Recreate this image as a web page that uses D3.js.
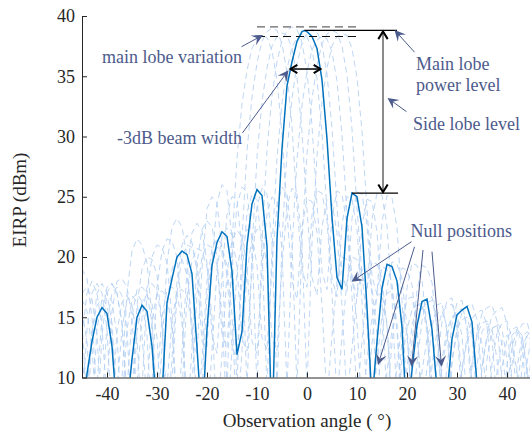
<!DOCTYPE html>
<html>
<head>
<meta charset="utf-8">
<script src="https://cdn.jsdelivr.net/npm/d3@7"></script>
<style>
  body { margin: 0; background: #fff; }
  text { font-family: "Liberation Serif", "Times New Roman", serif; }
</style>
</head>
<body>
<svg id="chart" width="530" height="434"></svg>
<script>
// Observation angles (deg) shared by the dashed patterns
const angles = [-45,-44,-43,-42,-41,-40,-39,-38,-37,-36,-35,-34,-33,-32,-31,-30,-29,-28,-27,-26,-25,-24,-23,-22,-21,-20,-19,-18,-17,-16,-15,-14,-13,-12,-11,-10,-9,-8,-7,-6,-5,-4,-3,-2,-1,0,1,2,3,4,5,6,7,8,9,10,11,12,13,14,15,16,17,18,19,20,21,22,23,24,25,26,27,28,29,30,31,32,33,34,35,36,37,38,39,40,41,42,43,44,45];

// Main (solid) pattern
const mainAngles = [-45,-44,-43,-42,-41,-40,-39,-38,-37,-36,-35,-34,-33,-32,-31,-30,-29,-28,-27,-26,-25,-24,-23,-22,-21,-20,-19,-18,-17,-16,-15,-14,-13,-12,-11,-10,-9,-8,-7,-6,-5,-4,-3,-2,-1,-0.5,0,1,2,3,4,5,6,7,8,9,10,11,12,13,14,15,16,17,18,19,20,21,22,23,24,25,26,27,28,29,30,31,32,33,34,35,36,37,38,39,40,41,42,43,44,45];
const mainEIRP = [6,10.3,13,15,15.8,15.3,12.6,7,5,7.5,11.5,15,16,15.5,12.6,7,8.5,16.2,18.2,20,20.5,20.2,18.6,12.5,6,14,19.3,21.2,22.1,21.7,18.8,11.9,13.8,21,24.4,25.6,25.1,20.9,5,21.5,29,34.2,36.2,37.9,38.7,38.8,38.7,38.3,37.3,34.7,29.8,23.3,18.3,17.3,23.2,25.3,25,22.5,15.8,8,13,17.4,19.4,19.2,18,14.2,6,10.6,14.3,16.3,16.5,14,9,6,8.5,13.2,15.2,15.6,15.9,14.6,9.5,5,7,9,9.5,8.5,5,8,9.5,9,6,7];

// Dashed patterns (other steering states), one array per pattern
const steerM9 = [6,9,14,16,16.5,16,13.5,8,10,17,20.5,21.5,21,19.5,15,6,12.5,19.5,22.5,23.2,22.5,20,13,12,19,24,25,24.5,20.5,9,21,28.2,32.7,35.5,37.3,38.1,38.4,38.2,37.1,34.7,30.2,23.7,18,16.5,22.5,24.8,24.6,22,16,8,13.5,18,20,19.8,18.5,14.5,7,11.5,15,16.8,17,14.5,8,6,11.5,14,15.6,16,16,14.5,9.5,6,11.5,14,15,15.2,13.5,8,6,11,13.8,14.5,14,11.5,6,9,12.5,14,13.5,10.5,5];
const steerM7 = [15.5,13,6,9.5,15,17.5,17.8,17,14.5,8,8.5,16,19,20,19.8,18.5,14.5,6,11.5,18,21,21.8,21.2,18.8,13,12.5,19.5,24.5,26,25.5,21.5,9,21.5,28.8,33.3,36.1,37.9,38.7,39,38.8,37.7,35.3,30.8,24.3,19,17.5,23.5,25.5,25.3,23,17,8,13.5,18,20,19.8,18.6,14.5,7,11.5,15,17,17.2,14.5,8,6,11.5,14.2,15.8,16.2,16.4,15,9.8,6,11.5,14,14.8,15,13.5,8,6,11.5,14,14.5,14,11.5,6,9,12.5,13.5,13];
const steerM5 = [17,17.5,16.5,13.5,6,9.5,15.5,18,18.2,17.5,15,8,9,17,20,21,20.8,19.5,15,6,12,19,22,22.8,22.2,19.5,13.5,12,18.5,23.5,25,24.8,20.5,9,20.5,28.3,32.9,35.7,37.5,38.3,38.6,38.4,37.3,34.9,30.4,23.9,18.3,16.8,22.5,24.8,24.5,22,16,8,12.5,16.8,19,18.8,17.5,13.5,7,10.5,14,15.8,16,13.5,8,6,10.5,13.2,14.8,15.3,15.5,14.2,9.2,6,10.5,13,14,14.2,12.8,8,6,10.5,13,13.5,13,10.5,6,9,12];
const steerM3 = [7,14,17,17.8,17,14,6,9,14,16.5,16.8,16.2,13.5,8,9.5,17.5,20.5,21.5,21.3,20,15.5,6,12.5,19.5,22.3,23,22.5,20,13.5,12.5,19.5,24.3,25.8,25.4,21.3,9,21.3,28.9,33.4,36.2,38,38.8,39.1,38.9,37.8,35.4,30.9,24.4,18.8,17.3,23.3,25.5,25.2,22.7,16.7,8,13,17.5,19.6,19.4,18.2,14.2,7,11,14.5,16.5,16.7,14.2,8,6,11,13.8,15.4,15.9,16.1,14.8,9.6,6,11,13.5,14.5,14.7,13.2,8,6,11,13.5,14,13.5,11,6];
const steerM1 = [14.5,8,7,14,16.5,17,16.3,13.5,6,9,15,17.3,17.5,17,14.5,8,9,16,19,20,19.8,18.5,14.5,6,11.5,18,20.7,21.5,21,18.5,12.5,11.5,18.5,23.7,25.2,24.7,20.7,9,20.7,28.2,32.8,35.6,37.4,38.2,38.5,38.3,37.2,34.8,30.3,23.8,18.2,16.7,22.7,25,24.8,22.3,16.3,8,12.8,17,19.2,19,17.8,13.8,7,10.8,14.3,16,16.2,13.8,8,6,10.8,13.4,15,15.5,15.7,14.4,9.3,6,10.8,13.3,14.1,14.3,12.8,8,6,10.8,13.3,13.8,13.3];
const steerP1 = [19,18.2,15,8,7.5,14.5,17,17.5,16.8,14,6,9.5,15,17.5,17.8,17.2,14.5,8,9.5,17,20,21,20.8,19.5,15.2,6,12.2,19,21.7,22.4,21.8,19.2,13.2,12.2,19.2,24.2,25.7,25.2,21.2,9,21.2,28.7,33.2,36,37.8,38.6,38.9,38.7,37.6,35.2,30.7,24.2,18.7,17.2,23.2,25.4,25.2,22.7,16.7,8,13.2,17.5,19.6,19.4,18.2,14.2,7,11.2,14.7,16.5,16.7,14.2,8,6,11.2,13.8,15.4,15.9,16.1,14.8,9.7,6,11.2,13.7,14.5,14.7,13.2,8,6,11.2,13.7];
const steerP3 = [13.5,17,18,17,14.2,8,7,13.8,16.2,16.8,16,13.2,6,9.2,14.7,17,17.2,16.7,14.2,8,9,16.7,19.7,20.7,20.5,19.2,15,6,12,18.7,21.4,22.2,21.7,19.2,13,12,18.8,23.6,25,24.6,20.6,9,20.6,28.1,32.6,35.4,37.2,38,38.3,38.1,37,34.6,30.1,23.6,18.2,16.7,22.6,24.8,24.6,22.1,16.2,8,12.8,17,19.1,18.9,17.7,13.8,7,10.8,14.2,16,16.2,13.8,8,6,10.8,13.3,14.9,15.4,15.6,14.3,9.3,6,10.8,13.2,14,14.2,12.7,8,6];
const steerP5 = [12.5,6,13.5,17,17.8,17,14.5,8,7.5,14,16.5,17,16.3,13.5,6,9.5,15,17.3,17.5,17,14.5,8,9.3,17,20,21,20.8,19.3,15.3,6,12.3,18.8,21.5,22.3,21.8,19.3,13.3,12.3,19.3,24.3,25.8,25.3,21.3,9,21.3,28.6,33.1,35.9,37.7,38.5,38.8,38.6,37.5,35.1,30.6,24.1,18.6,17.1,23.1,25.3,25.1,22.6,16.6,8,13.1,17.4,19.5,19.3,18.1,14.1,7,11.1,14.6,16.4,16.6,14.1,8,6,11.1,13.7,15.3,15.8,16,14.7,9.6,6,11.1,13.6,14.4,14.6,13.1];
const steerP7 = [16.5,15.5,12.5,6,13.5,17,17.8,17,14.5,8,7.2,13.8,16.3,16.8,16.1,13.3,6,9.2,14.8,17.1,17.3,16.8,14.3,8,9.2,16.8,19.8,20.8,20.6,19.3,15.2,6,12.2,18.8,21.5,22.3,21.8,19.3,13.2,12.2,19.2,24.2,25.7,25.2,21.2,9,21.2,28.4,32.9,35.7,37.5,38.3,38.5,38.4,37.3,34.9,30.4,23.9,18.4,16.9,22.9,25.1,24.9,22.4,16.4,8,12.9,17.2,19.3,19.1,17.9,13.9,7,10.9,14.4,16.2,16.4,13.9,8,6,10.9,13.5,15.1,15.6,15.8,14.5,9.4,6,10.9,13.4,14.2];
const dashedSeries = [steerM9, steerM7, steerM5, steerM3, steerM1, steerP1, steerP3, steerP5, steerP7];

// Tick labels
const xTicks = [-40, -30, -20, -10, 0, 10, 20, 30, 40];
const yTicks = [10, 15, 20, 25, 30, 35, 40];

const ANNOT = '#4c5b8c';
const svg = d3.select('#chart');

// Scales
const margin = { left: 82, top: 16 };
const x = d3.scaleLinear().domain([-45, 45]).range([margin.left, 532]);
const y = d3.scaleLinear().domain([10, 40]).range([377.5, margin.top]);

svg.append('defs').append('clipPath').attr('id', 'plot')
  .append('rect').attr('x', x(-45)).attr('y', y(40)).attr('width', x(45) - x(-45)).attr('height', y(10) - y(40));

const plot = svg.append('g').attr('clip-path', 'url(#plot)');

// Dashed patterns
const dashLine = d3.line().x((d, i) => x(angles[i])).y(d => y(d));
plot.selectAll('path.steer')
  .data(dashedSeries)
  .enter().append('path')
  .attr('class', 'steer')
  .attr('d', dashLine)
  .attr('fill', 'none')
  .attr('stroke', '#b3cff2')
  .attr('stroke-opacity', 0.85)
  .attr('stroke-width', 1)
  .attr('stroke-dasharray', '6,4');

// Main pattern
const mainLine = d3.line().x((d, i) => x(mainAngles[i])).y(d => y(d));
plot.append('path')
  .datum(mainEIRP)
  .attr('d', mainLine)
  .attr('fill', 'none')
  .attr('stroke', '#0072bd')
  .attr('stroke-width', 1.5);

// Axes (ticks inward)
const xAxis = svg.append('g')
  .attr('transform', 'translate(0,' + y(10) + ')')
  .call(d3.axisBottom(x).tickValues(xTicks).tickFormat(d => String(d)).tickSize(-5).tickSizeOuter(0).tickPadding(10));
const yAxis = svg.append('g')
  .attr('transform', 'translate(' + x(-45) + ',0)')
  .call(d3.axisLeft(y).tickValues(yTicks).tickFormat(d => String(d)).tickSize(-5).tickSizeOuter(0).tickPadding(7));
[xAxis, yAxis].forEach(g => {
  g.attr('font-family', null).attr('font-size', null);
  g.selectAll('path, line').attr('stroke', '#262626');
  g.selectAll('text').attr('fill', '#262626').style('font-size', '18px');
});

svg.append('text')
  .attr('x', x(0)).attr('y', 427)
  .attr('text-anchor', 'middle')
  .style('font-size', '19px').attr('fill', '#262626')
  .text('Observation angle ( °)');
svg.append('text')
  .attr('transform', 'translate(26,' + 200 + ') rotate(-90)')
  .attr('text-anchor', 'middle')
  .style('font-size', '19px').attr('fill', '#262626')
  .text('EIRP (dBm)');

// Reference levels taken from the data
const dashedPeaks = dashedSeries.map(s => d3.max(s));
const topVar = d3.max(dashedPeaks);
const lowVar = d3.min(dashedPeaks);
const mainPeak = d3.max(mainEIRP);
const sideLobe = mainEIRP[mainAngles.indexOf(9)];

function hline(a0, a1, v, stroke, dash) {
  svg.append('line')
    .attr('x1', x(a0)).attr('x2', x(a1)).attr('y1', y(v)).attr('y2', y(v))
    .attr('stroke', stroke).attr('stroke-width', 1.2)
    .attr('stroke-dasharray', dash || null);
}
hline(-10, 10, topVar, '#666', '8,5');
hline(-10, 10, lowVar, '#111', '8,5');
hline(-0.5, 18, mainPeak, '#000');
hline(9, 18.2, sideLobe, '#000');

// Open V arrowhead at (px,py) pointing along angle ang
function vHead(px, py, ang, len, stroke) {
  const a1 = ang + Math.PI - 0.55, a2 = ang + Math.PI + 0.55;
  svg.append('path')
    .attr('d', 'M' + (px + len * Math.cos(a1)) + ',' + (py + len * Math.sin(a1)) +
      'L' + px + ',' + py +
      'L' + (px + len * Math.cos(a2)) + ',' + (py + len * Math.sin(a2)))
    .attr('fill', 'none').attr('stroke', stroke).attr('stroke-width', 2);
}

// Side lobe level double arrow
const vx = x(15.2);
svg.append('line').attr('x1', vx).attr('x2', vx).attr('y1', y(mainPeak) + 2).attr('y2', y(sideLobe) - 2)
  .attr('stroke', '#666').attr('stroke-width', 1.5);
vHead(vx, y(mainPeak) + 1, -Math.PI / 2, 9, '#000');
vHead(vx, y(sideLobe) - 1, Math.PI / 2, 9, '#000');

// -3dB beam width double arrow
const bwY = y(mainPeak - 3.2);
svg.append('line').attr('x1', x(-3.3)).attr('x2', x(2.7)).attr('y1', bwY).attr('y2', bwY)
  .attr('stroke', '#000').attr('stroke-width', 1.5);
vHead(x(-3.3), bwY, Math.PI, 8, '#000');
vHead(x(2.7), bwY, 0, 8, '#000');

// Callout arrows: [fromAngle, fromEIRP, toAngle, toEIRP]
const callouts = [
  [-13.1, 37.45, -8.8, 38.42],
  [-12.9, 30.3, -3.7, 35.5],
  [21.5, 37.0, 17.5, 38.84],
  [19.9, 32.06, 16.1, 33.2],
  [20.9, 21.27, 8.9, 17.95],
  [21.5, 20.85, 14.2, 11.04],
  [23.2, 20.58, 20.9, 10.9],
  [25.0, 20.44, 26.9, 10.9]
];
callouts.forEach(c => {
  const x0 = x(c[0]), y0 = y(c[1]), x1 = x(c[2]), y1 = y(c[3]);
  const ang = Math.atan2(y1 - y0, x1 - x0);
  const L = 11, W = 5.5;
  svg.append('line')
    .attr('x1', x0).attr('y1', y0)
    .attr('x2', x1 - L * 0.6 * Math.cos(ang)).attr('y2', y1 - L * 0.6 * Math.sin(ang))
    .attr('stroke', ANNOT).attr('stroke-width', 1);
  svg.append('path')
    .attr('d', 'M0,0L' + (-L) + ',' + (-W) + 'L' + (-L * 0.6) + ',0L' + (-L) + ',' + W + 'Z')
    .attr('transform', 'translate(' + x1 + ',' + y1 + ') rotate(' + (ang * 180 / Math.PI) + ')')
    .attr('fill', ANNOT);
});

// Callout labels
const labels = [
  { t: 'main lobe variation', x: 242, y: 63, anchor: 'end' },
  { t: '-3dB beam width', x: 242, y: 144, anchor: 'end' },
  { t: 'Main lobe', x: 416, y: 70, anchor: 'start' },
  { t: 'power level', x: 416, y: 91, anchor: 'start' },
  { t: 'Side lobe level', x: 413, y: 130, anchor: 'start' },
  { t: 'Null positions', x: 410.5, y: 237, anchor: 'start' }
];
svg.selectAll('text.callout')
  .data(labels)
  .enter().append('text')
  .attr('class', 'callout')
  .attr('x', d => d.x).attr('y', d => d.y)
  .attr('text-anchor', d => d.anchor)
  .attr('fill', ANNOT)
  .style('font-size', '18px')
  .text(d => d.t);
</script>
</body>
</html>
